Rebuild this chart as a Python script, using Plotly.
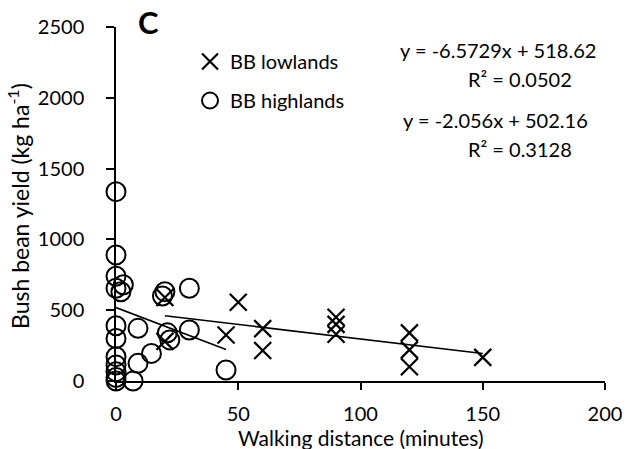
import plotly.graph_objects as go

# Bush bean yield vs. walking distance to the field
low_x = [20, 20, 45, 50, 60, 60, 90, 90, 90, 120, 120, 120, 150]
low_y = [590, 280, 325, 556, 370, 215, 450, 400, 330, 340, 220, 100, 167]

high_x = [0, 0, 0, 0, 0, 0, 0, 0, 0, 0, 0, 3, 2, 7, 9, 9, 14.5, 20, 19, 21, 22, 30, 30, 45]
high_y = [1337, 890, 740, 655, 390, 300, 172, 113, 66, 25, 0, 680, 630, 0, 372, 125, 195,
          631, 600, 340, 290, 655, 360, 78]

# Linear trend fits (slope, intercept, R²) as reported
fit_a = (-6.5729, 518.62, 0.0502)
fit_b = (-2.056, 502.16, 0.3128)

x_ticks = [0, 50, 100, 150, 200]
y_ticks = [0, 500, 1000, 1500, 2000, 2500]

FONT = "Lato"


def trend(xs, slope, intercept):
    x0, x1 = min(xs), max(xs)
    return [x0, x1], [slope * x0 + intercept, slope * x1 + intercept]


fig = go.Figure()

fig.add_trace(go.Scatter(
    x=low_x, y=low_y, mode="markers", name="BB lowlands",
    legendgroup="low", cliponaxis=False,
    marker=dict(symbol="x-thin-open", size=17, color="black",
                line=dict(color="black", width=2.2)),
))
fig.add_trace(go.Scatter(
    x=high_x, y=high_y, mode="markers", name="BB highlands",
    legendgroup="high", cliponaxis=False,
    marker=dict(symbol="circle-open", size=19, color="black",
                line=dict(color="black", width=2)),
))

# trend lines over each group's x-range
tx, ty = trend(high_x, fit_a[0], fit_a[1])
fig.add_trace(go.Scatter(x=tx, y=ty, mode="lines", showlegend=False,
                         line=dict(color="black", width=1.6)))
tx, ty = trend(low_x, fit_b[0], fit_b[1])
fig.add_trace(go.Scatter(x=tx, y=ty, mode="lines", showlegend=False,
                         line=dict(color="black", width=1.6)))


ann = [
    dict(text="<b>C</b>", x=148, y=22, size=31),
    dict(text=f"y = {fit_a[0]}x + {fit_a[1]:.2f}", x=498, y=50, size=20),
    dict(text=f"R² = {fit_a[2]}", x=520, y=79, size=20),
    dict(text=f"y = {fit_b[0]}x + {fit_b[1]:.2f}", x=495, y=120, size=20),
    dict(text=f"R² = {fit_b[2]}", x=520, y=149, size=20),
    dict(text="Bush bean yield (kg ha<sup>-1</sup>)", x=19, y=206, size=23, angle=-90),
    dict(text="Walking distance (minutes)", x=361, y=437, size=21),
]

W, H = 627, 449
ML, MR, MT, MB = 116, 22, 27, 68
pw, ph = W - ML - MR, H - MT - MB
annotations = []
for a in ann:
    annotations.append(dict(
        text=a["text"], showarrow=False, xref="paper", yref="paper",
        x=(a["x"] - ML) / pw, y=1 - (a["y"] - MT) / ph,
        xanchor="center", yanchor="middle", textangle=a.get("angle", 0),
        font=dict(family=FONT, color="black", size=a["size"]),
    ))

fig.update_layout(
    width=W, height=H,
    margin=dict(l=ML, r=MR, t=MT, b=MB),
    paper_bgcolor="white", plot_bgcolor="white",
    font=dict(family=FONT, color="black", size=20),
    annotations=annotations,
    legend=dict(x=(190 - ML) / pw, y=1 - (42 - MT) / ph, xanchor="left", yanchor="top",
                bgcolor="rgba(0,0,0,0)", font=dict(size=20, family=FONT),
                tracegroupgap=10, itemsizing="trace"),
    xaxis=dict(range=[0, 200], tickvals=x_ticks, showline=True, linecolor="black",
               linewidth=1.5, ticks="outside", ticklen=7, tickcolor="black",
               tickwidth=1.5, showgrid=False, zeroline=False, automargin=False,
               ticklabelstandoff=7,
               tickfont=dict(size=20, family=FONT)),
    yaxis=dict(range=[0, 2500], tickvals=y_ticks, showline=True, linecolor="black",
               linewidth=1.5, ticks="outside", ticklen=8, tickcolor="black",
               tickwidth=1.5, showgrid=False, zeroline=False, automargin=False,
               ticklabelstandoff=18,
               tickfont=dict(size=20, family=FONT)),
)

fig.write_html("out.html")
